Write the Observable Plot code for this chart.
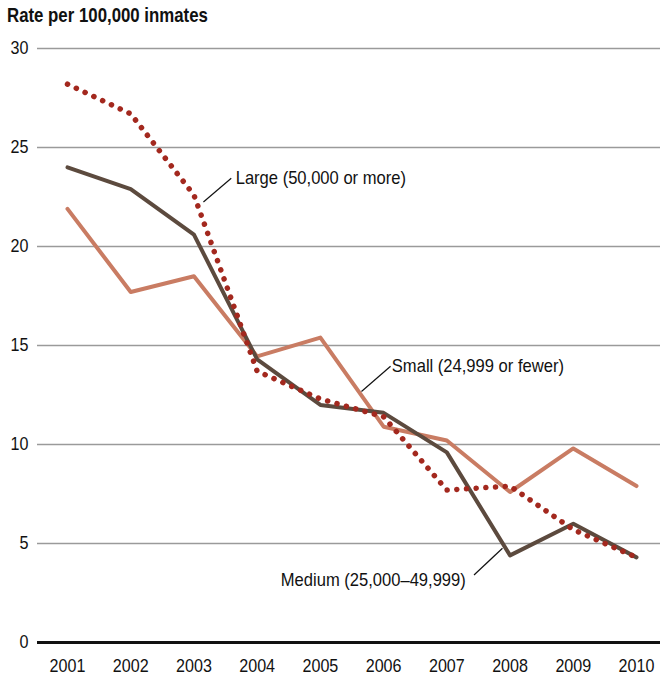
<!DOCTYPE html>
<html>
<head>
<meta charset="utf-8">
<script src="https://cdn.jsdelivr.net/npm/d3@7"></script>
<script src="https://cdn.jsdelivr.net/npm/@observablehq/plot@0.6"></script>
<style>
  body { margin: 0; background: #fff; }
  #wrap { width: 660px; font-family: "Liberation Sans", Arial, sans-serif; }
  #title { height: 30px; box-sizing: border-box; padding-left: 7px; padding-top: 4px; }
  #title span { display: inline-block; font-weight: bold; font-size: 20.5px; line-height: 22px; color: #111; transform: scaleX(0.82); transform-origin: left center; white-space: nowrap; }
</style>
</head>
<body>
<div id="wrap">
  <div id="title"><span>Rate per 100,000 inmates</span></div>
  <div id="chart"></div>
</div>
<script>
const years  = [2001, 2002, 2003, 2004, 2005, 2006, 2007, 2008, 2009, 2010];
const large  = [28.2, 26.7, 22.6, 13.7, 12.3, 11.4, 7.7, 7.9, 5.7, 4.3];
const medium = [24.0, 22.9, 20.6, 14.3, 12.0, 11.6, 9.6, 4.4, 6.0, 4.3];
const small  = [21.9, 17.7, 18.5, 14.45, 15.4, 10.9, 10.2, 7.6, 9.8, 7.9];
const yTicks = [0, 5, 10, 15, 20, 25, 30];

const labels = [
  {name: "Large (50,000 or more)", x: 2003.66, y: 23.45, anchor: "start", x1: 2003.59, y1: 23.45, x2: 2003.15, y2: 22.25},
  {name: "Small (24,999 or fewer)", x: 2006.13, y: 13.95, anchor: "start", x1: 2006.11, y1: 13.95, x2: 2005.65, y2: 12.68},
  {name: "Medium (25,000\u201349,999)", x: 2007.30, y: 3.15, anchor: "end", x1: 2007.43, y1: 3.41, x2: 2007.88, y2: 4.76}
];

const toRows = arr => years.map((yr, i) => ({year: yr, value: arr[i]}));

const FONT = '"Liberation Sans", Arial, sans-serif';

const chart = Plot.plot({
  width: 660,
  height: 647,
  marginLeft: 37,
  marginRight: 0,
  marginTop: 18,
  marginBottom: 35,
  style: {fontFamily: FONT, fontSize: "18px", color: "#111", background: "#fff"},
  x: {type: "linear", domain: [2001, 2010], insetLeft: 30, insetRight: 24},
  y: {domain: [0, 30]},
  marks: [
    Plot.ruleY(yTicks.filter(d => d > 0), {stroke: "#9a9a9a", strokeWidth: 1.5}),
    Plot.ruleY([0], {stroke: "#111", strokeWidth: 3}),
    Plot.axisY({ticks: yTicks, tickSize: 0, tickPadding: 9, label: null, fontSize: 18.5}),
    Plot.axisX({ticks: years, tickSize: 0, tickPadding: 16, tickFormat: d => String(d), label: null, fontSize: 18.5}),
    Plot.line(toRows(small), {x: "year", y: "value", stroke: "#c97c63", strokeWidth: 4}),
    Plot.line(toRows(medium), {x: "year", y: "value", stroke: "#5c4a3e", strokeWidth: 4}),
    Plot.line(toRows(large), {x: "year", y: "value", stroke: "#a3281e", strokeWidth: 5.5, strokeDasharray: "0.1 9.6", strokeLinecap: "round"}),
    Plot.link(labels, {x1: "x1", y1: "y1", x2: "x2", y2: "y2", stroke: "#111", strokeWidth: 1.2}),
    Plot.text(labels.filter(d => d.anchor === "start"), {x: "x", y: "y", text: "name", textAnchor: "start", fontSize: 18.5, fill: "#111"}),
    Plot.text(labels.filter(d => d.anchor === "end"), {x: "x", y: "y", text: "name", textAnchor: "end", fontSize: 18.5, fill: "#111"})
  ]
});
document.getElementById("chart").appendChild(chart);

// condense glyphs to mimic the narrow typeface of the original
chart.querySelectorAll("text").forEach(t => {
  const len = t.getComputedTextLength();
  if (len > 0) {
    const factor = len > 60 ? 0.895 : 0.87;
    t.setAttribute("textLength", (len * factor).toFixed(1));
    t.setAttribute("lengthAdjust", "spacingAndGlyphs");
  }
});
</script>
</body>
</html>
